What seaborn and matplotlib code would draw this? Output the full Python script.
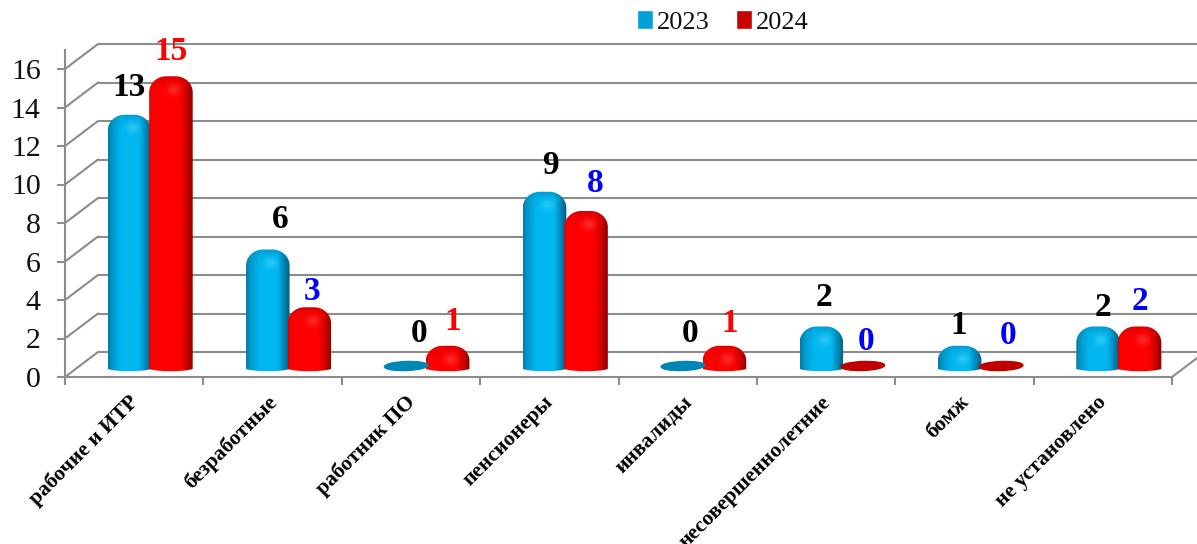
import matplotlib
matplotlib.use('Agg')
import matplotlib.pyplot as plt
from matplotlib.patches import Ellipse, PathPatch, Polygon, Patch
from matplotlib.path import Path
from matplotlib.transforms import IdentityTransform, Affine2D
import numpy as np
import pandas as pd
import seaborn as sns

categories = ['рабочие и ИТР', 'безработные', 'работник ПО', 'пенсионеры',
              'инвалиды', 'несовершеннолетние', 'бомж', 'не установлено']
years = ['2023', '2024']
values_2023 = [13, 6, 0, 9, 0, 2, 1, 2]
values_2024 = [15, 3, 1, 8, 1, 0, 0, 2]
colors_2023 = ['black', 'black', 'black', 'black', 'black', 'black', 'black', 'black']
colors_2024 = ['red', 'blue', 'red', 'blue', 'red', 'blue', 'blue', 'blue']
yticks = [0, 2, 4, 6, 8, 10, 12, 14, 16]

W, H = 1197, 544
GREY = '#8c8c8c'
LW = 1.5
# the hand-moved data labels of the original, centre in pixels
label_xy_2023 = [(129, 87), (280, 220), (419, 333), (550, 166), (690, 333), (824, 298), (959, 326), (1103, 308)]
label_xy_2024 = [(171, 52), (312, 291), (453, 321), (595, 183), (730, 324), (866, 341), (1008, 336), (1140, 301)]

sns.set_theme(style='white')
plt.rcParams['font.family'] = ['Liberation Serif', 'DejaVu Serif']

df = pd.DataFrame({
    'group': categories * 2,
    'year': [years[0]] * 8 + [years[1]] * 8,
    'count': values_2023 + values_2024,
})

fig = plt.figure(figsize=(W / 100, H / 100), dpi=100)
ax = fig.add_axes([65 / W, (H - 377) / H, (1172 - 65) / W, 327.25 / H])
sns.barplot(data=df, x='group', y='count', hue='year', hue_order=years,
            palette=['#00b4ee', '#ff0000'], width=0.6, gap=0, saturation=1,
            legend=False, ax=ax)
ax.set_xlim(-0.5, 7.5)
ax.set_ylim(0, 17)
ax.set_autoscale_on(False)
ax.patch.set_alpha(0)
ax.set_xlabel('')
ax.set_ylabel('')

# axes
sns.despine(ax=ax)
for s in ['left', 'bottom']:
    ax.spines[s].set_color(GREY)
    ax.spines[s].set_linewidth(LW)
ax.set_yticks(yticks)
ax.set_xticks(np.arange(-0.5, 8), minor=True)
ax.set_xticks(np.arange(8))
ax.tick_params(axis='y', left=True, length=6, width=LW, color=GREY, labelsize=21.5, pad=11.5,
               labelcolor='#111111')
ax.tick_params(axis='x', which='minor', bottom=True, length=6, width=LW, color=GREY)
ax.tick_params(axis='x', which='major', bottom=False, pad=5)
ax.set_xticklabels(categories, rotation=45, ha='right', va='top', rotation_mode='anchor',
                   fontsize=15.5, fontweight='bold', color='black')
for lab in ax.get_xticklabels():
    lab.set_transform(lab.get_transform() + Affine2D().translate(-6, 0))

# back wall of the fake 3d box
back = Affine2D().translate(33, 25)
for v in yticks:
    ax.plot([-0.5, 8.5], [v, v], color=GREY, lw=LW, clip_on=False, zorder=1,
            solid_capstyle='butt', transform=ax.transData + back)
    p0 = ax.transData.transform((-0.5, v))
    ax.plot([p0[0], p0[0] + 33], [p0[1], p0[1] + 25], color=GREY, lw=LW, clip_on=False,
            zorder=1, transform=IdentityTransform())
p1 = ax.transData.transform((7.5, 0))
ax.plot([p1[0], p1[0] + 33], [p1[1], p1[1] + 25], color=GREY, lw=LW, clip_on=False,
        zorder=1, transform=IdentityTransform())


def bar_path(x0, x1, y0, y1):
    # rounded top, slightly sagging bottom
    h = y1 - y0
    rx = min(17, (x1 - x0) * 0.4)
    ry = min(16, h * 0.62)
    k = 0.55
    verts = [(x0, y0), (x0, y1 - ry),
             (x0, y1 - ry * (1 - k)), (x0 + rx * (1 - k), y1), (x0 + rx, y1),
             (x1 - rx, y1),
             (x1 - rx * (1 - k), y1), (x1, y1 - ry * (1 - k)), (x1, y1 - ry),
             (x1, y0),
             (x1 - 10, y0 - 3), (x0 + 10, y0 - 3), (x0, y0),
             (x0, y0)]
    codes = [Path.MOVETO, Path.LINETO,
             Path.CURVE4, Path.CURVE4, Path.CURVE4,
             Path.LINETO,
             Path.CURVE4, Path.CURVE4, Path.CURVE4,
             Path.LINETO,
             Path.CURVE4, Path.CURVE4, Path.CURVE4,
             Path.CLOSEPOLY]
    return Path(verts, codes)


def shade(w, h, stops, dark, glow):
    t = np.linspace(0, 1, w)
    rgb = np.stack([np.interp(t, stops[0], [c[i] for c in stops[1]]) for i in range(3)], axis=1)
    img = np.repeat(rgb[None, :, :], h, axis=0).astype(float)
    yy, xx = np.mgrid[0:h, 0:w]
    # darker rim along the top
    rim = np.exp(-yy / 5.0)[..., None] * 0.55
    img = img * (1 - rim) + np.array(dark) * rim
    # soft spot under the top
    spot = np.exp(-((xx - w * 0.55) ** 2 / 40.0 + (yy - 13) ** 2 / 30.0))[..., None] * 0.45
    img = img * (1 - spot) + np.array(glow) * spot
    return np.clip(img, 0, 255).astype(np.uint8)


blue_stops = ([0, 0.08, 0.3, 0.72, 0.9, 1], [(0, 125, 170), (0, 150, 200), (0, 183, 240), (0, 183, 240), (0, 125, 170), (0, 95, 135)])
red_stops = ([0, 0.05, 0.7, 0.88, 1], [(225, 0, 0), (255, 0, 0), (255, 0, 0), (200, 0, 0), (140, 0, 0)])
styles = [(blue_stops, (0, 130, 175), (90, 225, 255), '#0086b5', 2),
          (red_stops, (185, 0, 0), (255, 90, 90), '#c00000', 3)]

# replace the flat seaborn bars with the shaded cylinders
for cont, (stops, dark, glow, flat, z) in zip(ax.containers, styles):
    for bar in cont:
        bb = bar.get_window_extent()
        bar.set_visible(False)
        x0, x1 = bb.x0 + 15, bb.x1 + 17
        y0 = bb.y0 + 8
        if bb.height < 1:
            ax.add_patch(Ellipse(((x0 + x1) / 2, y0 + 3), x1 - x0, 9, angle=2, color=flat,
                                 transform=IdentityTransform(), zorder=z + 2, clip_on=False))
            continue
        y1 = bb.y1 + 12
        clip = PathPatch(bar_path(x0, x1, y0, y1), transform=IdentityTransform())
        img = shade(int(x1 - x0), int(y1 - y0 + 4), stops, dark, glow)
        im = ax.imshow(img, extent=(x0, x1, y0 - 4, y1), aspect='auto', zorder=z,
                       interpolation='bilinear')
        im.set_transform(IdentityTransform())
        im.set_clip_path(clip)

ax.set_xlim(-0.5, 7.5)
ax.set_ylim(0, 17)

# data labels
for vals, xy, cols in [(values_2023, label_xy_2023, colors_2023), (values_2024, label_xy_2024, colors_2024)]:
    for v, (px, py), c in zip(vals, xy, cols):
        fig.text(px / W, 1 - py / H, str(v), color=c, fontsize=24, fontweight='bold',
                 ha='center', va='center', zorder=10)

# legend
handles = [Patch(facecolor='#00a0d8', label=years[0]), Patch(facecolor='#c80000', label=years[1])]
leg = fig.legend(handles=handles, ncol=2, frameon=False, fontsize=19, loc='center',
                 bbox_to_anchor=(723 / W, 1 - 22 / H), handlelength=0.6, handleheight=0.75,
                 handletextpad=0.15, columnspacing=1.0, borderaxespad=0, labelcolor='#111111')
fig.canvas.draw()
for h, cs in zip(leg.get_patches(), [('#0090c0', '#00b8f0', '#0070a0', '#30c0f0'),
                                     ('#a00000', '#ff0000', '#600000', '#e83030')]):
    b = h.get_window_extent()
    c = ((b.x0 + b.x1) / 2, (b.y0 + b.y1) / 2)
    corners = [(b.x0, b.y1), (b.x1, b.y1), (b.x1, b.y0), (b.x0, b.y0)]
    for i, col in enumerate([cs[1], cs[2], cs[3], cs[0]]):
        fig.add_artist(Polygon([corners[i], corners[(i + 1) % 4], c], closed=True, facecolor=col,
                               edgecolor='none', transform=IdentityTransform()))

fig.savefig('out.png', dpi=100)
